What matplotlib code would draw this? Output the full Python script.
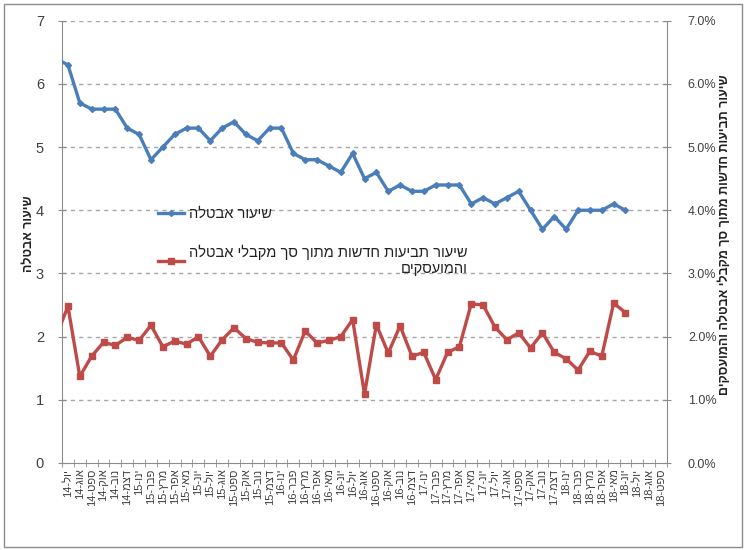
import re
import numpy as np
import matplotlib
matplotlib.use('Agg')
import matplotlib.pyplot as plt
from matplotlib.lines import Line2D
from matplotlib.patches import Rectangle
from matplotlib.ticker import FuncFormatter

plt.rcParams['font.family'] = ['Liberation Sans', 'DejaVu Sans']

# months from Jun-14 to Sep-18 (Jun-14 lies just outside the visible range)
month_names = ['ינו', 'פבר', 'מרץ', 'אפר', 'מאי', 'יונ', 'יול', 'אוג', 'ספט', 'אוק', 'נוב', 'דצמ']
categories = []
for yr in range(14, 19):
    for m in month_names:
        categories.append(f'{m}-{yr}')
categories = categories[5:5 + 52]

# unemployment rate (left axis)
unemployment = [6.4, 6.3, 5.7, 5.6, 5.6, 5.6, 5.3, 5.2, 4.8, 5.0, 5.2, 5.3, 5.3,
                5.1, 5.3, 5.4, 5.2, 5.1, 5.3, 5.3, 4.9, 4.8, 4.8, 4.7, 4.6,
                4.9, 4.5, 4.6, 4.3, 4.4, 4.3, 4.3, 4.4, 4.4, 4.4, 4.1, 4.2,
                4.1, 4.2, 4.3, 4.0, 3.7, 3.9, 3.7, 4.0, 4.0, 4.0, 4.1, 4.0]

# new claims rate, percent (right axis)
claims = [2.00, 2.48, 1.37, 1.69, 1.91, 1.86, 1.99, 1.94, 2.18, 1.84, 1.93, 1.88, 2.00,
          1.69, 1.95, 2.14, 1.97, 1.91, 1.90, 1.90, 1.63, 2.09, 1.90, 1.94, 2.00,
          2.27, 1.09, 2.19, 1.74, 2.17, 1.69, 1.75, 1.32, 1.75, 1.84, 2.52, 2.50,
          2.15, 1.95, 2.06, 1.82, 2.06, 1.75, 1.65, 1.47, 1.77, 1.69, 2.53, 2.38]

label_left = 'שיעור אבטלה'
label_right = 'שיעור תביעות חדשות מתוך סך מקבלי אבטלה והמועסקים'
legend_1 = 'שיעור אבטלה'
legend_2 = ['שיעור תביעות חדשות מתוך סך מקבלי אבטלה', 'והמועסקים']


def heb(s):
    # matplotlib has no bidi support: put Hebrew in visual order
    r = s[::-1]
    return re.sub(r'\d+', lambda m: m.group(0)[::-1], r)


blue = '#4A7EBB'
red = '#BE4B48'
gray = '#8C8C8C'
txt = '#404040'

fig = plt.figure(figsize=(7.44, 5.5), dpi=100)
ax = fig.add_axes([62 / 744, 87 / 550, 605 / 744, 442.3 / 550])
ax2 = ax.twinx()

x = np.arange(len(unemployment))
ax.plot(x, unemployment, color=blue, lw=2.4, marker='D', ms=3, zorder=3)
ax2.plot(x, claims, color=red, lw=2.4, marker='s', ms=5, zorder=3)

ax.set_ylim(0, 7)
ax2.set_ylim(0, 7)
ax.set_yticks(range(0, 8))
ax2.set_yticks(range(0, 8))
ax2.yaxis.set_major_formatter(FuncFormatter(lambda v, p: f'{v:.1f}%'))

ax.set_xticks(np.arange(len(categories)))
ax.set_xticklabels([heb(c) for c in categories], rotation=90, fontsize=8, color=txt)
ax.set_xticks(np.arange(len(categories)) + 0.5, minor=True)
ax.set_xlim(0.5, len(categories) - 0.5)
ax.tick_params(axis='x', which='major', length=0, pad=4)
ax.tick_params(axis='x', which='minor', length=6, direction='inout', color=gray)
ax.tick_params(axis='y', length=6, direction='inout', color=gray, labelsize=10.5,
               labelcolor=txt, pad=10)
ax2.tick_params(axis='y', length=6, direction='inout', color=gray, labelsize=9,
                labelcolor=txt, pad=12)

for a in (ax, ax2):
    a.spines['top'].set_visible(False)
    for s in ('left', 'right', 'bottom'):
        a.spines[s].set_color(gray)
ax.spines['right'].set_visible(False)
ax2.spines['left'].set_visible(False)
ax2.spines['bottom'].set_visible(False)

for yv in range(1, 8):
    ax.axhline(yv, color='#A6A6A6', lw=1, ls=(0, (3, 3)), zorder=1)

fig.text(29 / 744, 1 - 234 / 550, heb(label_left), rotation=90, ha='center',
         va='center', fontsize=9, fontweight='bold', color='#222222')
fig.text(725 / 744, 1 - 235 / 550, heb(label_right), rotation=90, ha='center',
         va='center', fontsize=9, fontweight='bold', color='#222222')

handles = [Line2D([], [], color=blue, lw=2.4, marker='D', ms=3),
           Line2D([], [], color=red, lw=2.4, marker='s', ms=5)]
labels = [heb(legend_1), '\n'.join(heb(l) for l in legend_2)]
leg = ax.legend(handles, labels, loc='upper left', bbox_to_anchor=(145 / 744, 1 - 194 / 550),
                bbox_transform=fig.transFigure, frameon=False, fontsize=10.5,
                handlelength=1.8, handletextpad=0.3, labelspacing=1.6)
for t in leg.get_texts():
    t.set_multialignment('right')
    t.set_color('#222222')

fig.patches.append(Rectangle((4 / 744, 3 / 550), 738 / 744, 543 / 550, transform=fig.transFigure,
                             fill=False, edgecolor=gray, lw=1))

fig.savefig('out.png', dpi=100)
